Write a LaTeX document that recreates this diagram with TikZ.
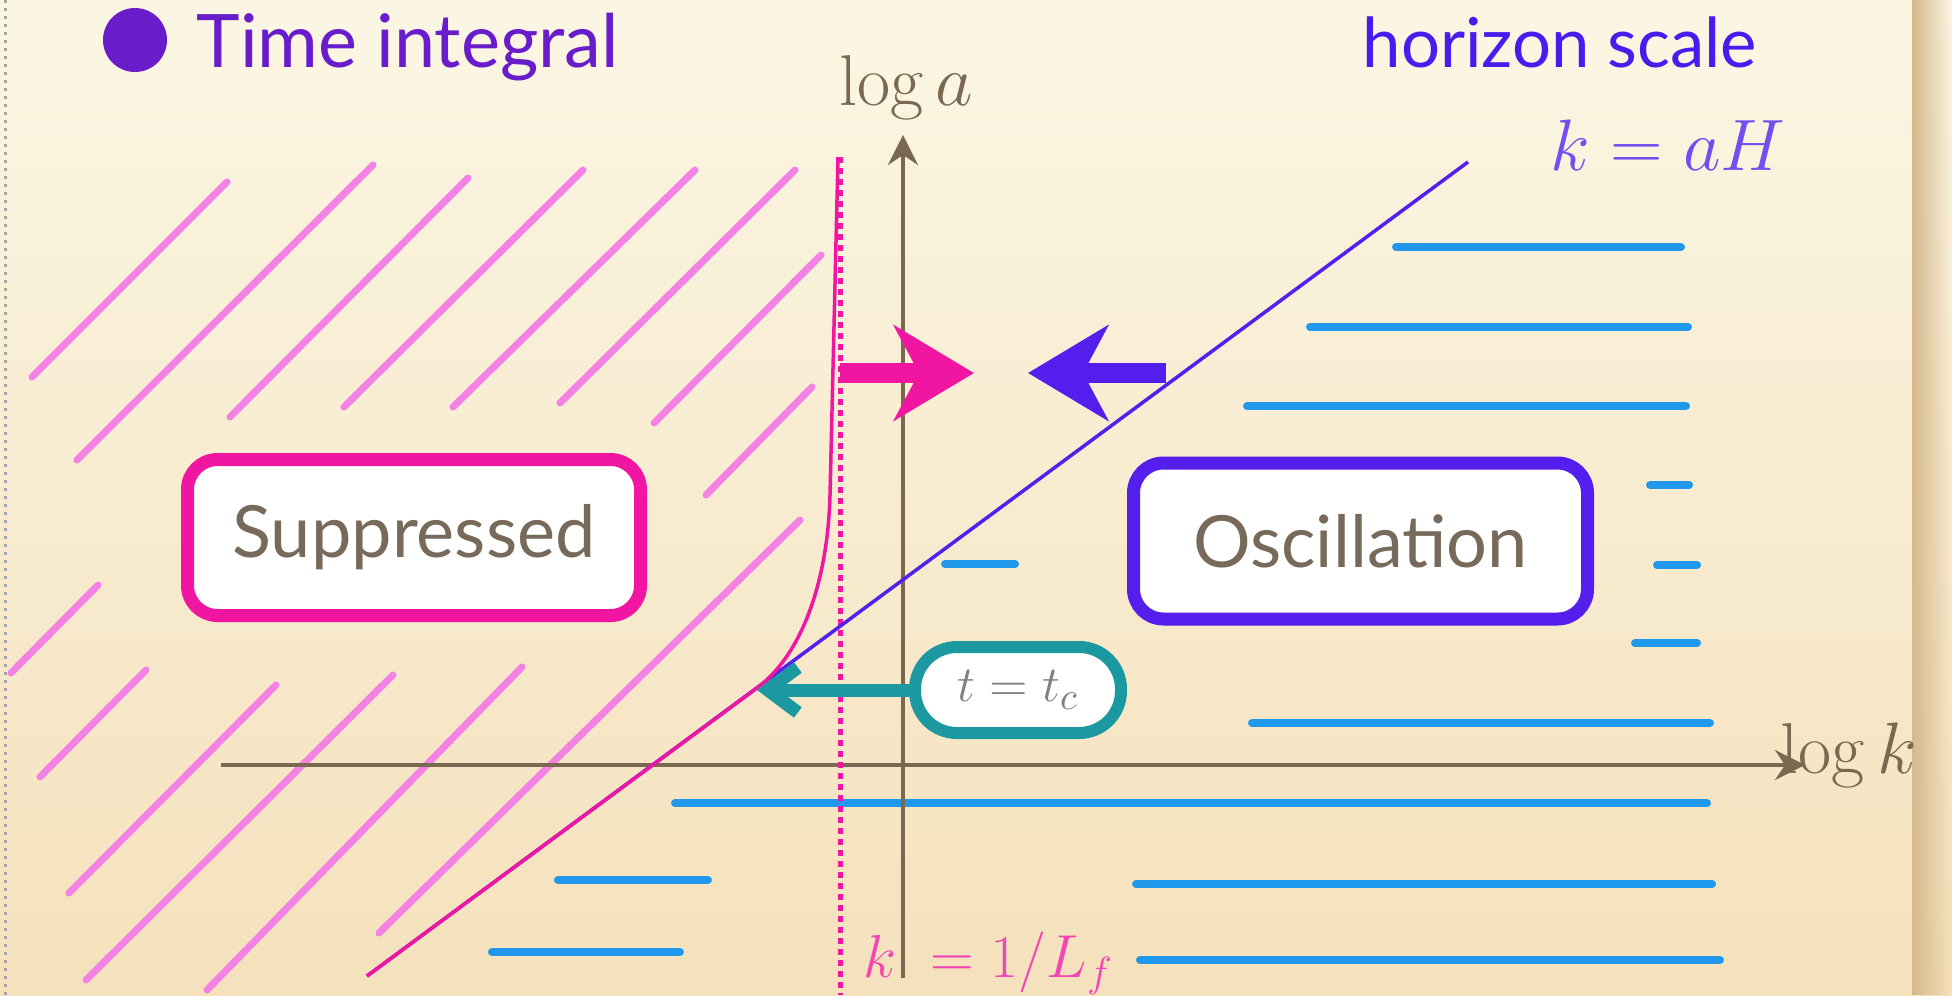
\documentclass[tikz,border=0pt]{standalone}
\usepackage{fontspec}
\newfontfamily\gill{Lato}
\usetikzlibrary{arrows.meta,fadings}
\definecolor{Cream}{RGB}{251,246,228}
\definecolor{Tan}{RGB}{245,225,188}
\definecolor{Edge}{RGB}{214,184,140}
\definecolor{Axis}{RGB}{122,104,80}
\definecolor{Ink}{RGB}{120,106,90}
\definecolor{Magenta}{RGB}{240,22,162}
\definecolor{Hatch}{RGB}{244,130,228}
\definecolor{Violet}{RGB}{84,30,236}
\definecolor{Purple}{RGB}{104,28,202}
\definecolor{Sky}{RGB}{32,152,236}
\definecolor{Teal}{RGB}{28,152,160}

\begin{document}
\begin{tikzpicture}[
 bx/.style={draw,line width=.13cm,rounded corners=.3cm,fill=white,minimum width=4.53cm,minimum height=1.56cm,
   font=\gill\fontsize{20.5}{24}\selectfont,text=Ink},
 lbl/.style={inner sep=0pt,font=\fontsize{20.5}{24}\selectfont,text=Axis},
 ax/.style={line width=.04cm,Axis,-{Stealth[length=.3cm,width=.3cm,inset=.1cm]}},
 hatch/.style={Hatch,line width=.07cm,line cap=round},
 wave/.style={Sky,line width=.08cm,line cap=round},
 fat/.style={line width=.2cm,-{Stealth[length=.8cm,width=.95cm,inset=.25cm]}}]
\useasboundingbox (0,0) rectangle (19.52,9.95);
% paper
\shade[top color=Cream,bottom color=Tan] (0,0) rectangle (19.52,9.95);
\fill[Edge,path fading=east] (19.12,0) rectangle (19.52,9.95);
\draw[gray!70,line width=.03cm,dash pattern=on .03cm off .05cm] (.05,0) -- (.05,9.95);

% title
\fill[Purple] (1.35,9.55) circle (.32);
\node[inner sep=0pt,anchor=base west,font=\gill\fontsize{21}{25}\selectfont,text=Purple] (ttl) at (1.96,9.27) {Time integral};
\node[inner sep=0pt,anchor=base west,font=\gill\fontsize{19.6}{24}\selectfont,text=Violet!90!blue] (hor) at (13.62,9.27) {horizon scale};
\node[inner sep=0pt,anchor=base,font=\fontsize{22}{26}\selectfont,text=Violet!80!white] (kah) at (16.68,8.25) {$k=aH$};

% suppressed region hatching
\foreach \xa/\ya/\xb/\yb in {.32/6.18/2.27/8.13,.77/5.35/3.73/8.30,2.30/5.78/4.68/8.17,3.44/5.88/5.83/8.25,
  4.53/5.88/6.95/8.25,5.60/5.92/7.95/8.25,6.54/5.72/8.21/7.40,7.06/5.00/8.12/6.08,3.79/.62/8.00/4.75,
  .11/3.22/.98/4.10,.40/2.18/1.46/3.25,.69/1.02/2.76/3.10,.86/.15/3.93/3.20,2.07/.05/5.22/3.28}
  \draw[hatch] (\xa,\ya) -- (\xb,\yb);

% oscillating modes
\foreach \y/\xa/\xb in {7.48/13.96/16.81,6.68/13.10/16.88,5.89/12.47/16.86,5.10/16.50/16.89,4.30/16.57/16.97,
  3.52/16.35/16.97,4.31/9.45/10.15,2.72/12.52/17.10,1.92/6.75/17.07,1.15/5.58/7.08,1.11/11.36/17.12,
  .43/4.92/6.80,.35/11.40/17.20}
  \draw[wave] (\xa,\y) -- (\xb,\y);

% axes
\coordinate (x0) at (2.21,2.30);
\coordinate (x1) at (18.05,2.30);
\coordinate (y0) at (9.03,.17);
\coordinate (y1) at (9.03,8.60);
\node[lbl,anchor=base] (la) at (9.06,8.90) {$\log a$};
\node[lbl,anchor=base west] (lk) at (17.80,2.22) {$\log k$};
\draw[ax] (x0) -- (x1);
\draw[ax] (y0) -- (y1);

% k = 1/L_f
\coordinate (f0) at (8.40,8.38);
\coordinate (f1) at (8.40,0);
\draw[Magenta,line width=.05cm,dash pattern=on .06cm off .05cm] (f0) -- (f1);
\node[inner sep=0pt,anchor=base west,font=\fontsize{17}{20}\selectfont,text=Magenta!80!white] (lf) at (8.63,.18) {$k\;=1/L_f$};

% horizon crossing
\coordinate (h0) at (3.67,.19);
\coordinate (h1) at (14.68,8.33);
\draw[Violet,line width=.035cm] (h0) -- (h1);
\draw[Magenta,line width=.035cm] (8.38,8.38) -- (8.30,5.0) .. controls (8.28,4.2) and (8.05,3.43) .. (7.57,3.07) -- (h0);

% regions
\node[bx,draw=Magenta] (sup) at (4.14,4.575) {Suppressed};
\node[bx,draw=Violet,minimum width=4.54cm] (osc) at (13.605,4.54) {Oscillation};
\node[bx,draw=Teal,line width=.12cm,minimum width=2.06cm,minimum height=.86cm,rounded corners=.42cm,
  font=\fontsize{15}{18}\selectfont,text=gray] (tc) at (10.18,3.05) {$t=t_c$};

% arrows
\coordinate (pk0) at (8.40,6.22);
\coordinate (pk1) at (9.74,6.22);
\coordinate (vk0) at (11.66,6.22);
\coordinate (vk1) at (10.28,6.22);
\coordinate (tc1) at (7.57,3.05);
\draw[fat,Magenta] (pk0) -- (pk1);
\draw[fat,Violet] (vk0) -- (vk1);
\draw[Teal,line width=.13cm,-{Straight Barb[length=.3cm,width=.45cm]}] (tc) -- (tc1);
\end{tikzpicture}
\end{document}
